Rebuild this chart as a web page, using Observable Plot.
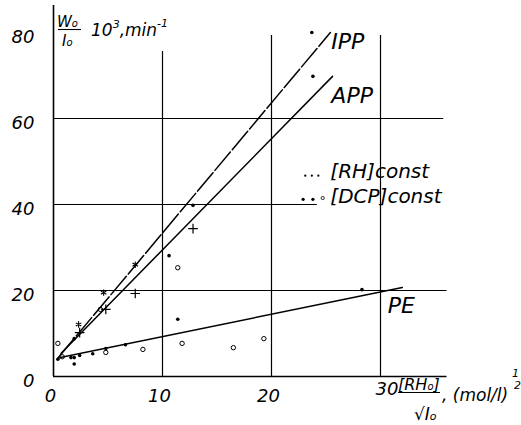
<!DOCTYPE html>
<html><head><meta charset="utf-8">
<script src="https://cdn.jsdelivr.net/npm/d3@7"></script>
<script src="https://cdn.jsdelivr.net/npm/@observablehq/plot@0.6"></script>
<style>body{margin:0;background:#fff} svg{display:block}</style>
</head><body><div id="chart"></div>
<script>
// axis ticks
const xTicks = [0, 10, 20];
const yTicks = [0, 20, 40, 60, 80];
// partial grid lines (value, extent end)
const vGrid = [10, 20, 30];
const vGridTop = [75.6, 79.3, 79.3];
const hGrid = [20, 40, 60];
const hGridEnd = [36.1, 24.2, 35.8];
// fitted lines (end points)
const ippX = [0.5, 25.4], ippY = [4.6, 80];
const appX = [0.7, 25.6], appY = [5.4, 69.8];
const peX = [0.4, 32.0], peY = [4.3, 20.7];
// line labels
const lineLabels = ["IPP", "APP", "PE"];
const lineLabelX = [27.0, 27.4, 31.9];
const lineLabelY = [77.7, 65.3, 16.5];
// measured points
const dotX = [10.6, 11.4, 12.8, 28.3, 23.7, 23.8, 6.6, 4.8, 3.6, 2.4, 1.9, 1.6, 1.9, 1.9, 0.4];
const dotY = [28.1, 13.3, 39.8, 20.2, 80.0, 69.8, 7.4, 6.5, 5.3, 4.9, 4.4, 4.4, 2.9, 8.8, 4.0];
const ringX = [0.4, 4.3, 11.4, 11.8, 16.5, 19.3, 8.2, 4.8, 0.8];
const ringY = [7.7, 15.6, 25.3, 7.7, 6.7, 8.8, 6.3, 5.6, 4.6];
const plusX = [2.4, 7.5, 4.8, 12.8];
const plusY = [10.2, 19.3, 15.6, 34.4];
const starX = [2.3, 7.5, 4.6];
const starY = [12.1, 26.0, 19.5];
// legend
const legendLabels = ["[RH]const", "[DCP]const"];

const zip = (xs, ys) => xs.map((x, i) => ({x, y: ys[i]}));
const F = "DejaVu Sans";

const chart = Plot.plot({
  width: 521, height: 425,
  marginLeft: 53, marginRight: 141, marginTop: 32, marginBottom: 49,
  x: {domain: [0, 30], axis: null},
  y: {domain: [0, 80], axis: null},
  style: {fontFamily: F, background: "#fff", color: "#000", overflow: "visible"},
  marks: [
    // axes
    Plot.ruleX([0], {y1: 0, y2: 86.3, stroke: "#000", strokeWidth: 1.6}),
    Plot.ruleY([0], {x1: 0, x2: 36.1, stroke: "#000", strokeWidth: 1.6}),
    // grid
    Plot.ruleX(vGrid, {x: d => d, y1: 0, y2: (d, i) => vGridTop[i], stroke: "#000", strokeWidth: 1.2}),
    Plot.ruleY(hGrid, {y: d => d, x1: 0, x2: (d, i) => hGridEnd[i], stroke: "#000", strokeWidth: 1.2}),
    // tick labels
    Plot.text(xTicks, {x: d => d, y: 0, text: d => String(d), dy: 20, dx: -3, fontSize: 18, fontStyle: "italic", fill: "#000"}),
    Plot.text(yTicks, {x: 0, y: d => d, text: d => String(d), dx: -19, dy: 5, textAnchor: "end", fontSize: 18, fontStyle: "italic", fill: "#000"}),
    // fitted lines
    Plot.line(zip(ippX, ippY), {x: "x", y: "y", stroke: "#000", strokeWidth: 1.5, strokeDasharray: "24,3"}),
    Plot.line(zip(appX, appY), {x: "x", y: "y", stroke: "#000", strokeWidth: 1.5}),
    Plot.line(zip(peX, peY), {x: "x", y: "y", stroke: "#000", strokeWidth: 1.5}),
    Plot.text(lineLabels, {x: (d, i) => lineLabelX[i], y: (d, i) => lineLabelY[i], text: d => d, fontSize: 22, fontStyle: "italic", fill: "#000"}),
    // points
    Plot.dot(zip(dotX, dotY), {x: "x", y: "y", r: 1.8, fill: "#000", stroke: "none"}),
    Plot.dot(zip(ringX, ringY), {x: "x", y: "y", r: 2.2, fill: "none", stroke: "#000", strokeWidth: 1}),
    Plot.dot(zip(plusX, plusY), {x: "x", y: "y", r: 3.2, symbol: "plus", stroke: "#000", strokeWidth: 1.2}),
    Plot.dot(zip(starX, starY), {x: "x", y: "y", r: 3.0, symbol: "asterisk", stroke: "#000", strokeWidth: 1.1}),
    // legend text
    Plot.text(legendLabels, {x: 25.4, y: (d, i) => i === 0 ? 47.7 : 41.9, text: d => d, textAnchor: "start", fontSize: 20, fontStyle: "italic", fill: "#000"}),
    // legend symbols
    Plot.dot([23.1, 23.7, 24.3], {x: d => d, y: 46.7, r: 1.1, fill: "#000", stroke: "none"}),
    Plot.dot([22.9, 23.8], {x: d => d, y: 41.2, r: 1.6, fill: "#000", stroke: "none"}),
    Plot.dot([24.7], {x: d => d, y: 41.5, r: 1.6, fill: "none", stroke: "#000", strokeWidth: 0.8})
  ]
});
document.getElementById("chart").appendChild(chart);

// rich-text axis titles
const svg = d3.select(chart);
const sx = chart.scale("x").apply, sy = chart.scale("y").apply;
function rich(x, y, parts, anchor) {
  const t = svg.append("text").attr("x", x).attr("y", y)
    .attr("font-family", F).attr("font-style", "italic").attr("fill", "#000")
    .attr("text-anchor", anchor || "start");
  parts.forEach(p => t.append("tspan").attr("dy", p.dy || 0).attr("font-size", p.s).text(p.t));
  return t;
}
function bar(x1, x2, y) {
  svg.append("line").attr("x1", x1).attr("x2", x2).attr("y1", y).attr("y2", y)
    .attr("stroke", "#000").attr("stroke-width", 1.1);
}
// y title: W0 / I0  10^3, min^-1
const ax = sx(0), ay = sy(80);
rich(ax + 4, ay - 5, [{t: "W", s: 15}, {t: "o", s: 10}]);
bar(ax + 5, ax + 28, ay - 2.5);
rich(ax + 9, ay + 14, [{t: "I", s: 15}, {t: "o", s: 10}]);
rich(ax + 38, ay + 4, [{t: "10", s: 17}, {t: "3", s: 11, dy: -8}, {t: ",min", s: 17, dy: 8}, {t: "-1", s: 11, dy: -9}]);
// x title: 30 [RH0]/sqrt(I0), (mol/l)^(1/2)
const bx = sx(30), by = sy(0);
rich(bx + 7, by + 19, [{t: "30", s: 18}], "middle");
rich(bx + 18, by + 14, [{t: "[RH", s: 16}, {t: "o", s: 10}, {t: "]", s: 16}]);
bar(bx + 18, bx + 60, by + 16.5);
rich(bx + 34, by + 44, [{t: "√I", s: 17}, {t: "o", s: 11}]);
rich(bx + 62, by + 25, [{t: ", (mol/l)", s: 17}]);
rich(bx + 132, by + 1, [{t: "1", s: 11}]);
rich(bx + 134, by + 13, [{t: "2", s: 11}]);
</script>
</body></html>
